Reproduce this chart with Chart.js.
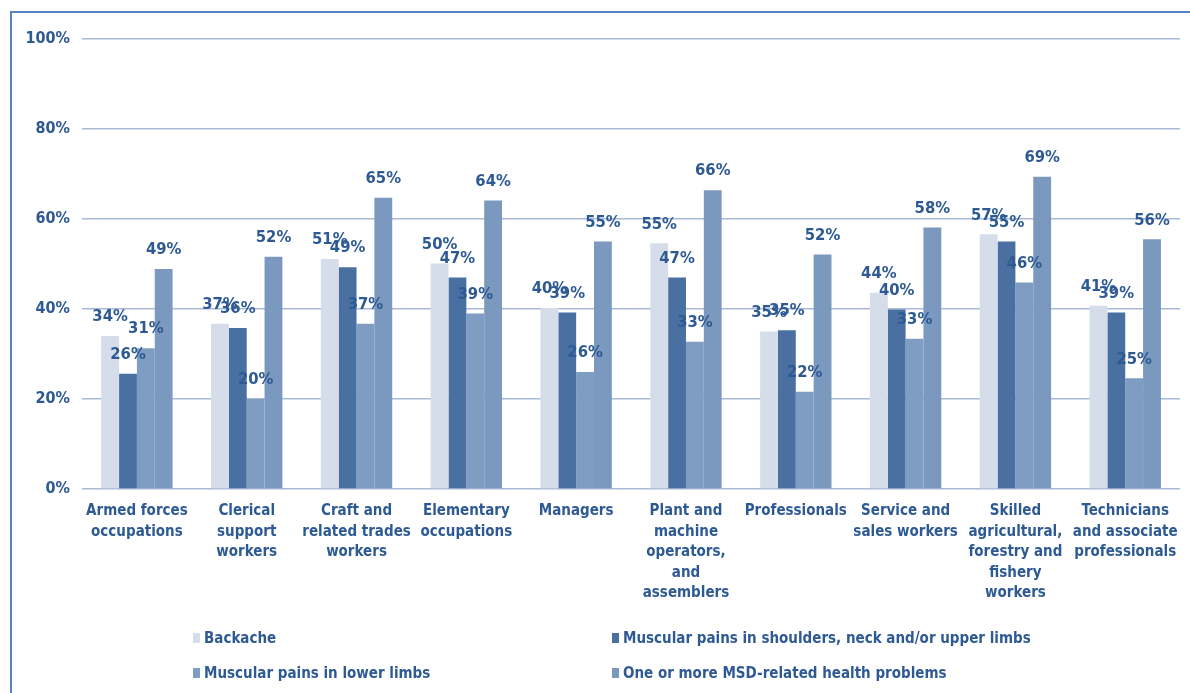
<!DOCTYPE html>
<html>
<head>
<meta charset="utf-8">
<script src="https://cdn.jsdelivr.net/npm/chart.js@4/dist/chart.umd.min.js"></script>
<style>
  html, body { margin: 0; padding: 0; background: #ffffff; width: 1190px; height: 693px; overflow: hidden; }
  #frame { position: absolute; left: 10px; top: 11px; width: 1400px; height: 900px; border: 2px solid #5584C0; box-sizing: border-box; }
  #wrap { position: absolute; left: 0; top: 0; width: 1190px; height: 693px; }
  .leg { position: absolute; font-family: 'DejaVu Sans Condensed', 'DejaVu Sans', sans-serif; font-weight: bold; font-stretch: condensed; font-size: 15px; color: #2E5A94; line-height: 20px; white-space: nowrap; }
  .leg i { position: absolute; width: 7px; height: 10px; top: 5px; }
</style>
</head>
<body>
<div id="frame"></div>
<div id="wrap"><canvas id="c" width="1190" height="693"></canvas></div>
<div id="legend"></div>
<script>
const categories = [
  ['Armed forces', 'occupations'],
  ['Clerical', 'support', 'workers'],
  ['Craft and', 'related trades', 'workers'],
  ['Elementary', 'occupations'],
  ['Managers'],
  ['Plant and', 'machine', 'operators,', 'and', 'assemblers'],
  ['Professionals'],
  ['Service and', 'sales workers'],
  ['Skilled', 'agricultural,', 'forestry and', 'fishery', 'workers'],
  ['Technicians', 'and associate', 'professionals']
];
const seriesNames = [
  'Backache',
  'Muscular pains in shoulders, neck and/or upper limbs',
  'Muscular pains in lower limbs',
  'One or more MSD-related health problems'
];
const backache   = [34.0, 36.7, 51.1, 50.1, 40.2, 54.6, 35.0, 43.6, 56.6, 40.7];
const upperLimbs = [25.6, 35.8, 49.3, 47.0, 39.2, 47.0, 35.3, 39.9, 55.0, 39.2];
const lowerLimbs = [31.3, 20.0, 36.7, 39.0, 26.0, 32.7, 21.6, 33.4, 45.9, 24.6];
const anyMSD     = [48.9, 51.6, 64.7, 64.1, 55.0, 66.4, 52.1, 58.1, 69.4, 55.5];
const yTicks = [0, 20, 40, 60, 80, 100];

const colors = ['#D5DDEA', '#4A70A2', '#7F9DC2', '#7B98BE'];
const textColor = '#2E5A94';
const fontFamily = "'DejaVu Sans Condensed', 'DejaVu Sans', sans-serif";

const seriesValues = [backache, upperLimbs, lowerLimbs, anyMSD];

const labelPlugin = {
  id: 'barLabels',
  afterDatasetsDraw(chart) {
    const ctx = chart.ctx;
    ctx.save();
    ctx.font = 'bold 16.5px ' + fontFamily;
    ctx.fillStyle = textColor;
    ctx.textAlign = 'center';
    ctx.textBaseline = 'middle';
    chart.data.datasets.forEach((ds, di) => {
      const meta = chart.getDatasetMeta(di);
      meta.data.forEach((bar, i) => {
        ctx.fillText(Math.round(ds.data[i]) + '%', bar.x, bar.y - 19);
      });
    });
    ctx.restore();
  }
};

new Chart(document.getElementById('c'), {
  type: 'bar',
  data: {
    labels: categories,
    datasets: seriesNames.map((name, k) => ({
      label: name,
      data: seriesValues[k],
      backgroundColor: colors[k],
      borderWidth: 0,
      barPercentage: 1.0,
      categoryPercentage: 0.65
    }))
  },
  options: {
    responsive: false,
    animation: false,
    layout: { padding: { top: 39, right: 7, left: 0, bottom: 0 } },
    plugins: {
      legend: { display: false },
      tooltip: { enabled: false }
    },
    scales: {
      x: {
        grid: { display: false, drawTicks: false },
        border: { display: false },
        ticks: {
          color: textColor,
          font: { family: fontFamily, weight: 'bold', size: 15, lineHeight: 1.37 },
          padding: 12,
          maxRotation: 0,
          minRotation: 0,
          autoSkip: false
        },
        afterFit(scale) { scale.height = 204; }
      },
      y: {
        min: 0,
        max: 100,
        afterBuildTicks(scale) { scale.ticks = yTicks.map(v => ({ value: v })); },
        grid: { color: '#A8BAD6', lineWidth: 1.5, drawTicks: false },
        border: { display: false },
        ticks: {
          color: textColor,
          font: { family: fontFamily, weight: 'bold', size: 16 },
          padding: 12,
          callback: v => v + '%'
        },
        afterFit(scale) { scale.width = 82; }
      }
    }
  },
  plugins: [labelPlugin]
});

// HTML legend (2 x 2 grid as in the reference)
const legendPos = [
  { x: 193, y: 628 },
  { x: 612, y: 628 },
  { x: 193, y: 663 },
  { x: 612, y: 663 }
];
const legendEl = document.getElementById('legend');
seriesNames.forEach((name, k) => {
  const d = document.createElement('div');
  d.className = 'leg';
  d.style.left = legendPos[k].x + 'px';
  d.style.top = legendPos[k].y + 'px';
  d.style.paddingLeft = '11px';
  const m = document.createElement('i');
  m.style.left = '0px';
  m.style.background = colors[k];
  d.appendChild(m);
  d.appendChild(document.createTextNode(name));
  legendEl.appendChild(d);
});
</script>
</body>
</html>
